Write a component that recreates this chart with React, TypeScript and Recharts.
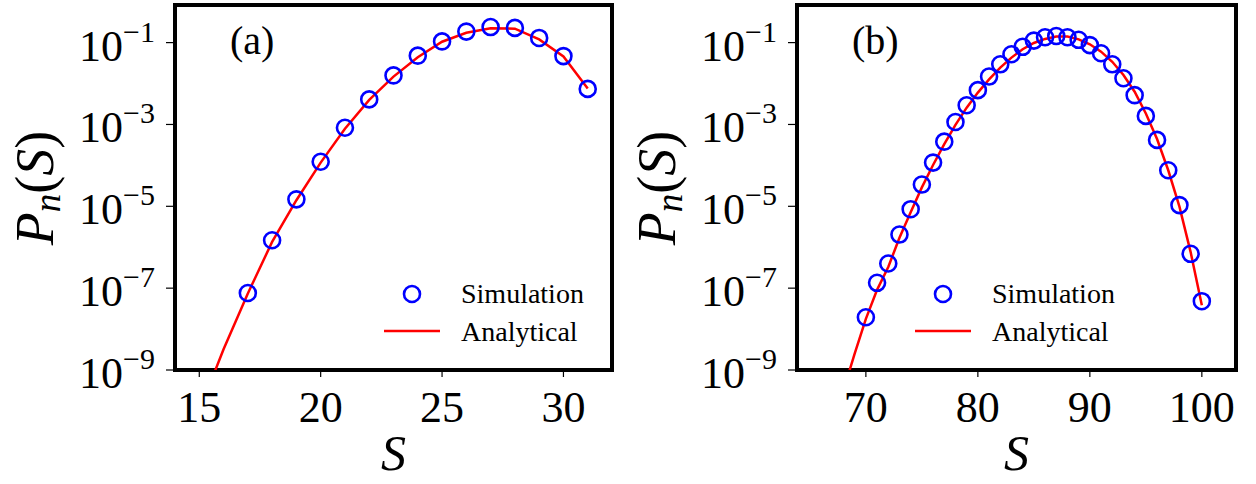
import React from 'react';
import { ComposedChart, Scatter, Line, XAxis, YAxis, ReferenceArea, Legend } from 'recharts';

const FONT = '"Liberation Serif", "DejaVu Serif", serif';
const fontStyle = { fontFamily: FONT };

// panel (a): simulation points
const simASizes = [17, 18, 19, 20, 21, 22, 23, 24, 25, 26, 27, 28, 29, 30, 31];
const simAProb = [
  7.6e-8, 1.48e-6, 1.48e-5, 1.23e-4, 8.3e-4, 4.1e-3, 1.58e-2, 4.8e-2,
  0.107, 0.186, 0.24, 0.229, 0.13, 0.0468, 7.4e-3,
];
// panel (a): analytical curve
const anaASizes = [15, 16, 17, 18, 19, 20, 21, 22, 23, 24, 25, 26, 27, 28, 29, 30, 31];
const anaAProb = [
  1.0e-10, 3.2e-9, 7.4e-8, 1.35e-6, 1.41e-5, 1.17e-4, 7.9e-4, 4.0e-3, 1.48e-2,
  4.4e-2, 0.105, 0.174, 0.224, 0.219, 0.12, 0.0457, 7.6e-3,
];

// panel (b): simulation points
const simBSizes = [
  70, 71, 72, 73, 74, 75, 76, 77, 78, 79, 80, 81, 82, 83, 84, 85,
  86, 87, 88, 89, 90, 91, 92, 93, 94, 95, 96, 97, 98, 99, 100,
];
const simBProb = [
  1.95e-8, 1.35e-7, 4.0e-7, 2.04e-6, 8.5e-6, 3.4e-5, 1.17e-4, 3.8e-4,
  1.15e-3, 2.95e-3, 6.9e-3, 1.48e-2, 2.95e-2, 5.2e-2, 7.9e-2, 0.112,
  0.135, 0.145, 0.135, 0.117, 0.087, 0.055, 0.0295, 0.0135, 5.2e-3,
  1.62e-3, 4.2e-4, 7.6e-5, 1.07e-5, 6.9e-7, 4.8e-8,
];
// panel (b): analytical curve
const anaBSizes = [
  68, 69, 70, 71, 72, 73, 74, 75, 76, 77, 78, 79, 80, 81, 82, 83, 84,
  85, 86, 87, 88, 89, 90, 91, 92, 93, 94, 95, 96, 97, 98, 99, 100,
];
const anaBProb = [
  3.2e-10, 2.5e-9, 1.78e-8, 9.1e-8, 3.3e-7, 1.7e-6, 7.2e-6, 2.9e-5, 1.02e-4,
  3.3e-4, 9.8e-4, 2.57e-3, 6.0e-3, 1.26e-2, 2.45e-2, 4.3e-2, 6.9e-2,
  0.098, 0.123, 0.141, 0.141, 0.12, 0.091, 0.06, 0.034, 0.0162, 6.3e-3,
  1.86e-3, 4.4e-4, 7.6e-5, 9.8e-6, 7.6e-7, 3.8e-8,
];

const yTicks = [1e-9, 1e-7, 1e-5, 1e-3, 1e-1];
const yDomain: [number, number] = [1e-9, 0.83];
const xTicksA = [15, 20, 25, 30];
const xTicksB = [70, 80, 90, 100];
const legendLabels = ['Simulation', 'Analytical'];

const rows = (sizes: number[], probs: number[]) => sizes.map((s, i) => ({ s, p: probs[i] }));

const Ring = (props: any) => (
  <circle cx={props.cx} cy={props.cy} r={8} fill="none" stroke="#0000ff" strokeWidth={2.6} />
);

const YTick = ({ x, y, payload }: any) => {
  const e = Math.round(Math.log10(payload.value));
  return (
    <text x={x} y={y + 18} textAnchor="end" style={fontStyle} fontSize={44} fill="#000">
      10
      <tspan dy={-19} fontSize={30}>{`\u2212${-e}`}</tspan>
    </text>
  );
};

const XTick = ({ x, y, payload }: any) => (
  <text x={x} y={y + 43} textAnchor="middle" style={fontStyle} fontSize={44} fill="#000">
    {payload.value}
  </text>
);

const Titles = ({ left, right, tag }: any) => (
  <g style={fontStyle} fill="#000">
    <text x={(left + right) / 2} y={470} textAnchor="middle" fontSize={50} fontStyle="italic" style={fontStyle}>
      S
    </text>
    <text
      x={left - 122}
      y={188}
      transform={`rotate(-90 ${left - 122} 188)`}
      textAnchor="middle"
      fontSize={54}
      style={fontStyle}
    >
      <tspan fontStyle="italic">P</tspan>
      <tspan fontStyle="italic" fontSize={37} dy={7}>n</tspan>
      <tspan dy={-7}>(</tspan>
      <tspan fontStyle="italic">S</tspan>
      <tspan>)</tspan>
    </text>
    <text x={left + 55} y={54} fontSize={40} style={fontStyle}>
      {tag}
    </text>
  </g>
);

const LegendBox = () => (
  <svg width={260} height={85} style={{ display: 'block' }}>
    <circle cx={40} cy={24} r={8} fill="none" stroke="#0000ff" strokeWidth={2.6} />
    <line x1={12} y1={61} x2={68} y2={61} stroke="#ff0000" strokeWidth={2.5} />
    {legendLabels.map((label, i) => (
      <text key={label} x={89} y={33 + i * 38} style={fontStyle} fontSize={28} fill="#000">
        {label}
      </text>
    ))}
  </svg>
);

type PanelProps = {
  sim: { s: number; p: number }[];
  ana: { s: number; p: number }[];
  xDomain: [number, number];
  xTicks: number[];
  tag: string;
  plotLeft: number;
  plotRight: number;
  legendLeft: number;
};

const Panel = ({ sim, ana, xDomain, xTicks, tag, plotLeft, plotRight, legendLeft }: PanelProps) => (
  <ComposedChart
    width={628}
    height={484}
    margin={{ top: 5, right: 628 - plotRight, bottom: 54, left: 0 }}
    style={fontStyle}
  >
    <XAxis
      dataKey="s"
      type="number"
      domain={xDomain}
      ticks={xTicks}
      allowDataOverflow
      height={60}
      axisLine={false}
      tickSize={7}
      tickMargin={2}
      tickLine={{ stroke: '#000', strokeWidth: 1.2 }}
      tick={<XTick />}
      label={<Titles left={plotLeft} right={plotRight} tag={tag} />}
    />
    <YAxis
      type="number"
      scale="log"
      domain={yDomain}
      ticks={yTicks}
      allowDataOverflow
      width={plotLeft}
      axisLine={false}
      tickSize={9}
      tickMargin={11}
      tickLine={{ stroke: '#000', strokeWidth: 1.2 }}
      tick={<YTick />}
    />
    <Scatter
      name="Simulation"
      data={sim}
      dataKey="p"
      legendType="circle"
      shape={Ring}
      isAnimationActive={false}
    />
    <Line
      name="Analytical"
      data={ana}
      dataKey="p"
      type="linear"
      stroke="#ff0000"
      strokeWidth={2.5}
      dot={false}
      legendType="line"
      isAnimationActive={false}
    />
    <ReferenceArea
      x1={xDomain[0]}
      x2={xDomain[1]}
      y1={yDomain[0]}
      y2={yDomain[1]}
      fill="none"
      stroke="#000"
      strokeWidth={4}
      ifOverflow="visible"
    />
    <Legend
      layout="vertical"
      align="center"
      verticalAlign="middle"
      content={() => <LegendBox />}
      wrapperStyle={{ left: legendLeft, top: 270, width: 260, height: 85 }}
    />
  </ComposedChart>
);

export default function App() {
  return (
    <div style={{ position: 'absolute', left: 0, top: 0, width: 1256, height: 484, background: '#fff' }}>
      <div style={{ position: 'absolute', left: 0, top: 0 }}>
        <Panel
          sim={rows(simASizes, simAProb)}
          ana={rows(anaASizes, anaAProb)}
          xDomain={[14, 32]}
          xTicks={xTicksA}
          tag="(a)"
          plotLeft={175}
          plotRight={612}
          legendLeft={372}
        />
      </div>
      <div style={{ position: 'absolute', left: 628, top: 0 }}>
        <Panel
          sim={rows(simBSizes, simBProb)}
          ana={rows(anaBSizes, anaBProb)}
          xDomain={[63.85, 103.05]}
          xTicks={xTicksB}
          tag="(b)"
          plotLeft={169}
          plotRight={608}
          legendLeft={275}
        />
      </div>
    </div>
  );
}
